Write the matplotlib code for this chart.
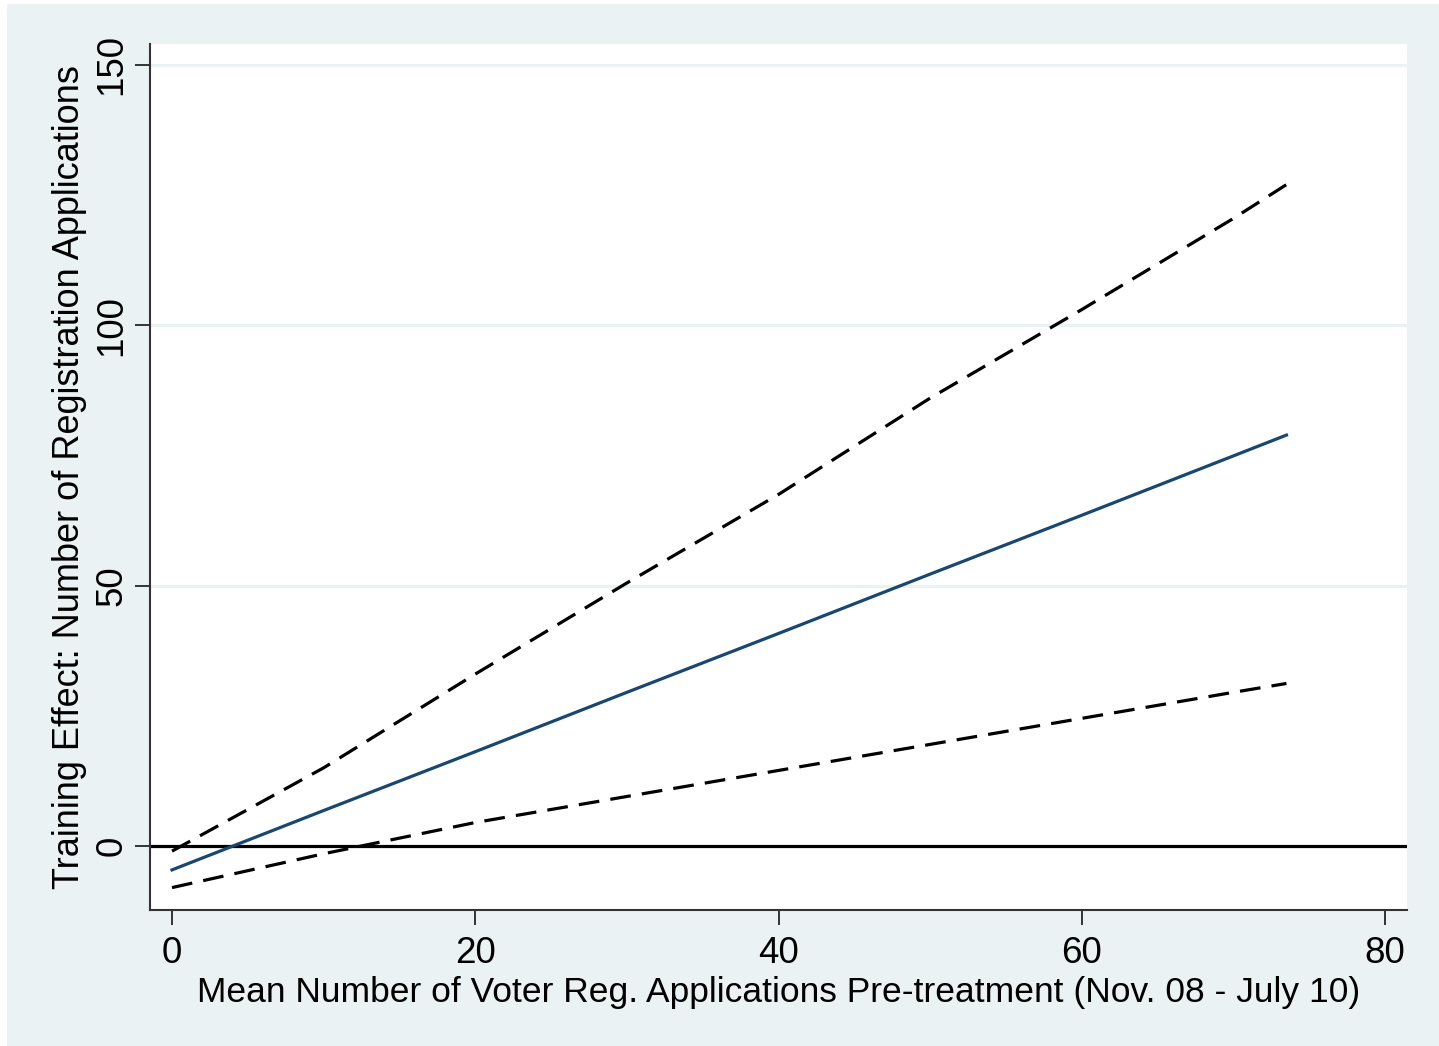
import matplotlib.pyplot as plt
from matplotlib.patches import Rectangle

plt.rcParams['font.family'] = ['Liberation Sans', 'DejaVu Sans']

# values
x_vals = [0, 10, 20, 30, 40, 50, 60, 70, 73.5]
effect = [-4.6, 6.8, 18.1, 29.5, 40.8, 52.2, 63.5, 74.9, 78.9]
upper_ci = [-1.0, 15.0, 33.0, 50.5, 67.5, 86.0, 103.0, 120.5, 127.0]
lower_ci = [-8.0, -1.5, 4.5, 9.5, 14.5, 19.5, 24.5, 29.5, 31.2]

x_ticks = [0, 20, 40, 60, 80]
y_ticks = [0, 50, 100, 150]

bg = '#EAF2F3'
W, H = 1439, 1046
fig = plt.figure(figsize=(W / 100, H / 100), dpi=100, facecolor='white')
fig.patches.append(Rectangle((7 / W, 0), 1 - 7 / W, 1 - 4 / H, transform=fig.transFigure,
                             facecolor=bg, edgecolor='none', zorder=-10))

ax = fig.add_axes([150 / W, 1 - 910 / H, (1407 - 150) / W, (910 - 44) / H])
ax.set_facecolor('white')

for g in [50, 100, 150]:
    ax.axhline(g, color=bg, lw=2.2, zorder=1)
ax.axhline(0, color='black', lw=2.3, zorder=2)

ax.plot(x_vals, upper_ci, color='black', lw=2.3, dashes=(6.5, 3.5), zorder=3)
ax.plot(x_vals, lower_ci, color='black', lw=2.3, dashes=(6.5, 3.5), zorder=3)
ax.plot(x_vals, effect, color='#1a476f', lw=2.3, zorder=4)

ax.set_xlim(-1.45, 81.45)
ax.set_ylim(-12.3, 154.0)
ax.set_xticks(x_ticks)
ax.set_yticks(y_ticks)
ax.set_yticklabels([str(v) for v in y_ticks], rotation=90, va='center')

for s in ['top', 'right']:
    ax.spines[s].set_visible(False)
for s in ['left', 'bottom']:
    ax.spines[s].set_color('#333333')
    ax.spines[s].set_linewidth(1.5)

ax.tick_params(axis='both', direction='out', length=11, width=1.4, color='#333333',
               labelsize=26.5)
ax.tick_params(axis='x', pad=8)
ax.tick_params(axis='y', pad=4)

ax.set_xlabel('Mean Number of Voter Reg. Applications Pre-treatment (Nov. 08 - July 10)',
              fontsize=25.5, labelpad=3)
ax.set_ylabel('Training Effect: Number of Registration Applications', fontsize=26, labelpad=5)

plt.savefig('out.png', dpi=100, facecolor=fig.get_facecolor())
